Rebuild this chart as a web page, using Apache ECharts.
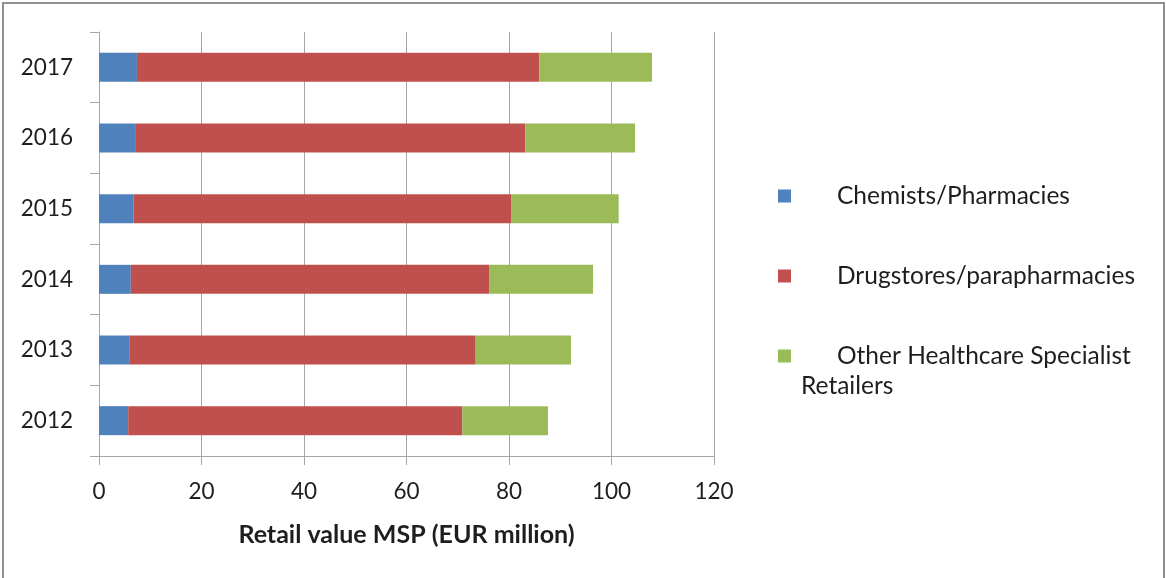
<!DOCTYPE html>
<html>
<head>
<meta charset="utf-8">
<title>Retail value MSP by channel</title>
<script src="https://cdn.jsdelivr.net/npm/echarts@6/dist/echarts.min.js"></script>
<style>
  html, body { margin: 0; padding: 0; background: #ffffff; }
  #chart { width: 1166px; height: 578px; }
</style>
</head>
<body>
<div id="chart"></div>
<script>
// Years, bottom to top
const years = ['2012', '2013', '2014', '2015', '2016', '2017'];

// Retail value MSP, EUR million, per channel
const chemists = [5.7, 5.9, 6.2, 6.7, 7.2, 7.4];
const drugstores = [65.2, 67.6, 70.0, 73.7, 76.0, 78.5];
const otherHealthcare = [16.7, 18.6, 20.2, 21.0, 21.4, 22.0];

const seriesNames = ['Chemists/Pharmacies', 'Drugstores/parapharmacies', 'Other Healthcare Specialist Retailers'];
const legendLabels = ['Chemists/Pharmacies', 'Drugstores/parapharmacies', 'Other Healthcare Specialist\nRetailers'];
const colors = ['#4f81bd', '#c0504d', '#9bbb59'];

const xTicks = { min: 0, max: 120, interval: 20 };
const axisTitle = 'Retail value MSP (EUR million)';

const FONT = 'Lato, "Open Sans", sans-serif';
const TEXT = '#1e1e1e';
const GRID = '#a6a6a6';

const chart = echarts.init(document.getElementById('chart'));

function makeLegend(i, top) {
  return {
    show: true,
    orient: 'vertical',
    left: 778,
    top: top,
    padding: 0,
    itemWidth: 13,
    itemHeight: 13,
    icon: 'rect',
    selectedMode: false,
    data: [seriesNames[i]],
    formatter: function () {
      const parts = legendLabels[i].split('\n');
      const first = '{pad| }' + parts[0];
      // keep the swatch beside the first line of a wrapped label
      return parts.length > 1 ? '\u00a0\n' + first + '\n' + parts.slice(1).join('\n') : first;
    },
    textStyle: {
      fontFamily: FONT,
      fontSize: 24.5,
      color: TEXT,
      lineHeight: 30,
      padding: [0, 0, 0, 5],
      rich: {
        pad: { width: 36, lineHeight: 30, fontSize: 24.5 }
      }
    }
  };
}

const option = {
  animation: false,
  backgroundColor: '#ffffff',
  color: colors,
  textStyle: { fontFamily: FONT },
  grid: { left: 99, right: 452, top: 32, bottom: 122, containLabel: false },
  legend: [makeLegend(0, 181), makeLegend(1, 261), makeLegend(2, 311)],
  xAxis: {
    type: 'value',
    min: xTicks.min,
    max: xTicks.max,
    interval: xTicks.interval,
    name: axisTitle,
    nameLocation: 'middle',
    nameGap: 66,
    nameTextStyle: { fontFamily: FONT, fontSize: 25, fontWeight: 'bold', color: TEXT },
    axisLine: { show: true, lineStyle: { color: GRID, width: 1 } },
    axisTick: { show: true, length: 9, lineStyle: { color: GRID, width: 1 } },
    axisLabel: { margin: 24, fontFamily: FONT, fontSize: 22.5, color: TEXT },
    splitLine: { show: true, lineStyle: { color: GRID, width: 1 } }
  },
  yAxis: {
    type: 'category',
    data: years,
    axisLine: { show: true, lineStyle: { color: GRID, width: 1 } },
    axisTick: { show: true, length: 9, lineStyle: { color: GRID, width: 1 } },
    axisLabel: { margin: 26, fontFamily: FONT, fontSize: 22.5, color: TEXT },
    splitLine: { show: false }
  },
  series: [
    { name: seriesNames[0], type: 'bar', stack: 'total', barWidth: '41%', data: chemists },
    { name: seriesNames[1], type: 'bar', stack: 'total', barWidth: '41%', data: drugstores },
    { name: seriesNames[2], type: 'bar', stack: 'total', barWidth: '41%', data: otherHealthcare }
  ],
  graphic: [
    {
      type: 'rect',
      silent: true,
      shape: { x: 3, y: 3, width: 1161, height: 640 },
      style: { fill: 'none', stroke: '#8f8f8f', lineWidth: 2 }
    }
  ]
};

chart.setOption(option);
</script>
</body>
</html>
